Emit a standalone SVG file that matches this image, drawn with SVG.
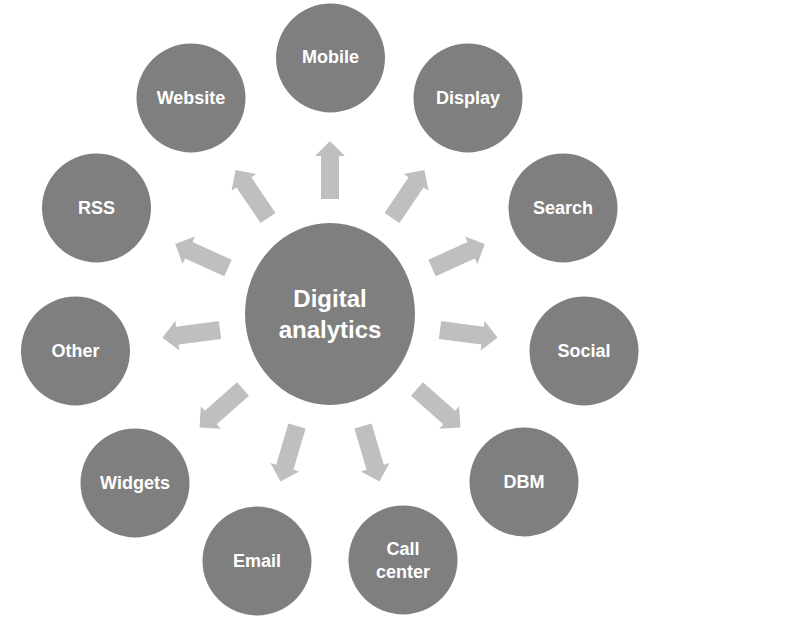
<svg xmlns="http://www.w3.org/2000/svg" width="800" height="619" viewBox="0 0 800 619">
<defs>
<style>
.node{fill:#7F7F7F}
.lbl{fill:#FFFFFF;font-family:"Liberation Sans",Arial,sans-serif;font-weight:bold;font-size:18px;text-anchor:middle}
.big{font-size:24px}
.arr{fill:#BFBFBF}
</style>
<path id="a" d="M0,-9 L43,-9 L43,-15 L58,0 L43,15 L43,9 L0,9 Z"/>
</defs>
<rect width="800" height="619" fill="#FFFFFF"/>
<g id="connectors" class="arr">
<use href="#a" transform="translate(330,199) rotate(-90)"/>
<use href="#a" transform="translate(392,218) rotate(-56)"/>
<use href="#a" transform="translate(432,268) rotate(-24.4)"/>
<use href="#a" transform="translate(440,330) rotate(7.6)"/>
<use href="#a" transform="translate(417,389) rotate(41.5)"/>
<use href="#a" transform="translate(363,426) rotate(73.5)"/>
<use href="#a" transform="translate(297,426) rotate(106.5)"/>
<use href="#a" transform="translate(243,389) rotate(138.5)"/>
<use href="#a" transform="translate(220,330) rotate(172.4)"/>
<use href="#a" transform="translate(228,268) rotate(-155.6)"/>
<use href="#a" transform="translate(268,218) rotate(-124)"/>
</g>
<g id="center"><ellipse class="node" cx="330" cy="314" rx="85" ry="91"/><text class="lbl big" x="330" y="307">Digital</text><text class="lbl big" x="330" y="338">analytics</text></g>
<g id="mobile"><circle class="node" cx="330.5" cy="58" r="54.5"/><text class="lbl" x="330.5" y="63">Mobile</text></g>
<g id="display"><circle class="node" cx="468" cy="98" r="54.5"/><text class="lbl" x="468" y="104">Display</text></g>
<g id="search"><circle class="node" cx="563" cy="208" r="54.5"/><text class="lbl" x="563" y="214">Search</text></g>
<g id="social"><circle class="node" cx="584" cy="351" r="54.5"/><text class="lbl" x="584" y="357">Social</text></g>
<g id="dbm"><circle class="node" cx="524" cy="482" r="54.5"/><text class="lbl" x="524" y="488">DBM</text></g>
<g id="callcenter"><circle class="node" cx="403" cy="560" r="54.5"/><text class="lbl" x="403" y="555">Call</text><text class="lbl" x="403" y="578">center</text></g>
<g id="email"><circle class="node" cx="257" cy="561" r="54.5"/><text class="lbl" x="257" y="567">Email</text></g>
<g id="widgets"><circle class="node" cx="135" cy="483" r="54.5"/><text class="lbl" x="135" y="489">Widgets</text></g>
<g id="other"><circle class="node" cx="75.5" cy="351" r="54.5"/><text class="lbl" x="75.5" y="357">Other</text></g>
<g id="rss"><circle class="node" cx="96.5" cy="208" r="54.5"/><text class="lbl" x="96.5" y="214">RSS</text></g>
<g id="website"><circle class="node" cx="191" cy="98" r="54.5"/><text class="lbl" x="191" y="104">Website</text></g>
</svg>
